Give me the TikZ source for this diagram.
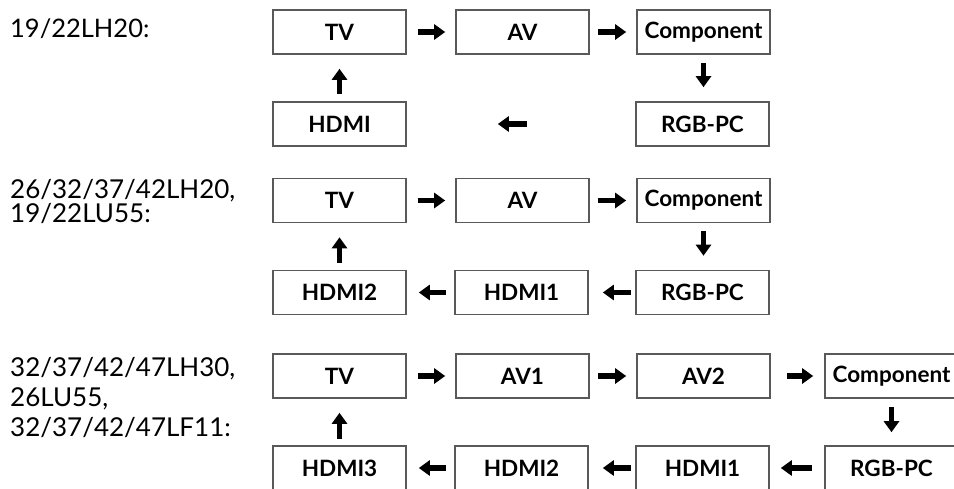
\documentclass[tikz,border=0pt]{standalone}
\usepackage{fontspec}
\setmainfont{Lato}
\usetikzlibrary{arrows.meta}
\tikzset{
  box/.style={draw=black!65, line width=1.6pt, minimum width=133pt, minimum height=44pt,
    inner sep=0pt, font=\bfseries\fontsize{22.5}{26}\selectfont},
  arr/.style={line width=5.5pt, -{Triangle[length=11pt,width=15pt]}},
  lbl/.style={anchor=north west, inner sep=0pt, align=left}
}
\begin{document}
\begin{tikzpicture}[x=1pt,y=-1pt]
\useasboundingbox (0,0) rectangle (954,488);
\clip (0,0) rectangle (954,488);
% Row 1
\node[lbl, font=\fontsize{25.5}{23}\selectfont] (l1) at (10,19) {19/22LH20:};
\node[box] (a1) at (339.5,32) {TV};
\node[box] (a2) at (522.5,32) {AV};
\node[box] (a3) at (703.5,32) {Component};
\node[box] (a4) at (339.5,124) {HDMI};
\node[box] (a5) at (702.5,124) {RGB-PC};
\draw[arr, shorten <=11pt, shorten >=10pt] (a1) -- (a2);
\draw[arr, shorten <=8pt, shorten >=10pt] (a2) -- (a3);
\draw[arr, shorten <=8pt, shorten >=14pt] (a3) -- (a3 |- a5.north);
\draw[arr, shorten <=108pt, shorten >=91pt] (a5) -- (a4);
\draw[arr, shorten <=7pt, shorten >=14pt] (a4) -- (a1);
% Row 2
\node[lbl, font=\fontsize{26}{24}\selectfont] (l2) at (10,179) {26/32/37/42LH20,\\19/22LU55:};
\node[box] (b1) at (339.5,200.5) {TV};
\node[box] (b2) at (522.5,200.5) {AV};
\node[box] (b3) at (703.5,200.5) {Component};
\node[box] (b4) at (339.5,292.5) {HDMI2};
\node[box] (b5) at (521.5,292.5) {HDMI1};
\node[box] (b6) at (702.5,292.5) {RGB-PC};
\draw[arr, shorten <=11pt, shorten >=10pt] (b1) -- (b2);
\draw[arr, shorten <=8pt, shorten >=10pt] (b2) -- (b3);
\draw[arr, shorten <=8pt, shorten >=14pt] (b3) -- (b3 |- b6.north);
\draw[arr, shorten <=4pt, shorten >=14pt] (b6) -- (b5);
\draw[arr, shorten <=8pt, shorten >=12pt] (b5) -- (b4);
\draw[arr, shorten <=7pt, shorten >=14pt] (b4) -- (b1);
% Row 3
\node[lbl, font=\fontsize{26}{30}\selectfont] (l3) at (10,357) {32/37/42/47LH30,\\26LU55,\\32/37/42/47LF11:};
\node[box] (c1) at (339.5,376) {TV};
\node[box] (c2) at (522.5,376) {AV1};
\node[box] (c3) at (703.5,376) {AV2};
\node[box] (c4) at (891.5,376) {Component};
\node[box] (c5) at (339.5,468) {HDMI3};
\node[box] (c6) at (521.5,468) {HDMI2};
\node[box] (c7) at (702.5,468) {HDMI1};
\node[box] (c8) at (891.5,468) {RGB-PC};
\draw[arr, shorten <=11pt, shorten >=10pt] (c1) -- (c2);
\draw[arr, shorten <=8pt, shorten >=10pt] (c2) -- (c3);
\draw[arr, shorten <=16pt, shorten >=11pt] (c3) -- (c4);
\draw[arr, shorten <=8pt, shorten >=13pt] (c4) -- (c8);
\draw[arr, shorten <=12pt, shorten >=11pt] (c8) -- (c7);
\draw[arr, shorten <=4pt, shorten >=14pt] (c7) -- (c6);
\draw[arr, shorten <=8pt, shorten >=12pt] (c6) -- (c5);
\draw[arr, shorten <=6pt, shorten >=14pt] (c5) -- (c1);
\end{tikzpicture}
\end{document}
